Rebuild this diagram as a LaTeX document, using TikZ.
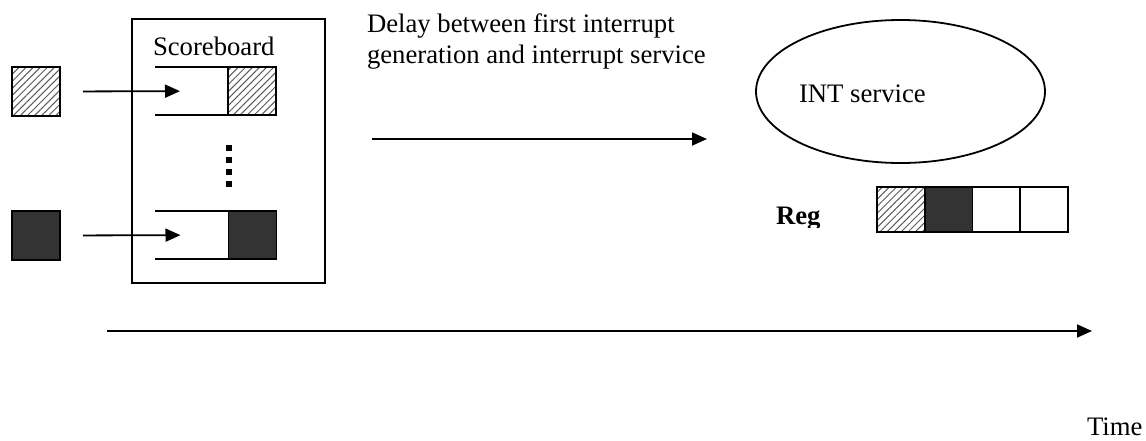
\documentclass[tikz,border=0pt]{standalone}
\usepackage{fontspec}
\setmainfont{Liberation Serif}
\usetikzlibrary{arrows.meta,patterns.meta,shapes.geometric}
\begin{document}
\begin{tikzpicture}[x=1pt,y=-1pt,
  every node/.style={inner sep=0pt,outer sep=0pt},
  txt/.style={font=\fontsize{26.7}{31}\selectfont},
  conn/.style={line width=1.8pt,-{Triangle[length=15pt,width=13pt]}},
  hatched/.style={draw,line width=1.6pt,
    pattern={Lines[angle=45,distance=5pt,line width=1pt]},pattern color=black!65},
  dark/.style={draw,line width=1.6pt,fill=black!80},
  empty/.style={draw,line width=1.6pt,fill=white},
  srcsq/.style={minimum width=48pt,minimum height=49pt},
  slotcell/.style={minimum width=48pt,minimum height=48pt},
  regcell/.style={minimum width=47.75pt,minimum height=45pt},
  dot/.style={fill=black,minimum width=5.5pt,minimum height=5.5pt},
  rail/.style={line width=1.8pt}]
\useasboundingbox (0,0) rectangle (1146,440);

% incoming interrupt sources
\node[hatched,srcsq] (src1) at (36,91.5) {};
\node[dark,srcsq]    (src2) at (36,235.5) {};

% scoreboard
\node[draw,line width=1.8pt,minimum width=193pt,minimum height=264pt] (sb) at (228.5,151) {};
\node[txt,anchor=base west] (sblabel) at (153,55) {Scoreboard};

% scoreboard slots
\node[hatched,slotcell] (cell1) at (252,91) {};
\node[dark,slotcell]    (cell2) at (252.5,235) {};
\draw[rail] (155,67) -- (cell1.north west);
\draw[rail] (155,115) -- (cell1.south west);
\draw[rail] (155,211) -- (cell2.north west);
\draw[rail] (155,259) -- (cell2.south west);

\draw[conn,shorten <=23pt,shorten >=48pt] (src1.east) -- (cell1.west);
\draw[conn,shorten <=23pt,shorten >=48pt] (src2.east) -- (cell2.west);

% vertical ellipsis between slots
\foreach \i/\y in {1/148,2/160,3/172,4/184}
  \node[dot] (d\i) at (229,\y) {};

% delay annotation
\node[txt,anchor=base west,align=left] (delay) at (367,63)
  {Delay between first interrupt\\generation and interrupt service};
\coordinate (dstart) at (372,139);
\coordinate (dend) at (707,139);
\draw[conn] (dstart) -- (dend);

% interrupt service routine
\node[draw,ellipse,line width=1.8pt,minimum width=289pt,minimum height=143pt] (isr) at (900.5,91.5) {};
\node[txt,anchor=base west] (isrlabel) at (799,102) {INT service};

% register
\begin{scope}
  \clip (760,180) rectangle (860,227.5);
  \node[txt,anchor=base west,font=\fontsize{26.7}{31}\selectfont\bfseries] (reglabel) at (776,224) {Reg};
\end{scope}
\node[hatched,regcell] (r1) at (900.9,209.5) {};
\node[dark,regcell,anchor=west]  (r2) at (r1.east) {};
\node[empty,regcell,anchor=west] (r3) at (r2.east) {};
\node[empty,regcell,anchor=west] (r4) at (r3.east) {};

% time axis
\coordinate (t0) at (107,331);
\coordinate (t1) at (1092,331);
\draw[conn] (t0) -- (t1);
\node[txt,anchor=base west] (timelabel) at (1087,435) {Time};
\end{tikzpicture}
\end{document}
